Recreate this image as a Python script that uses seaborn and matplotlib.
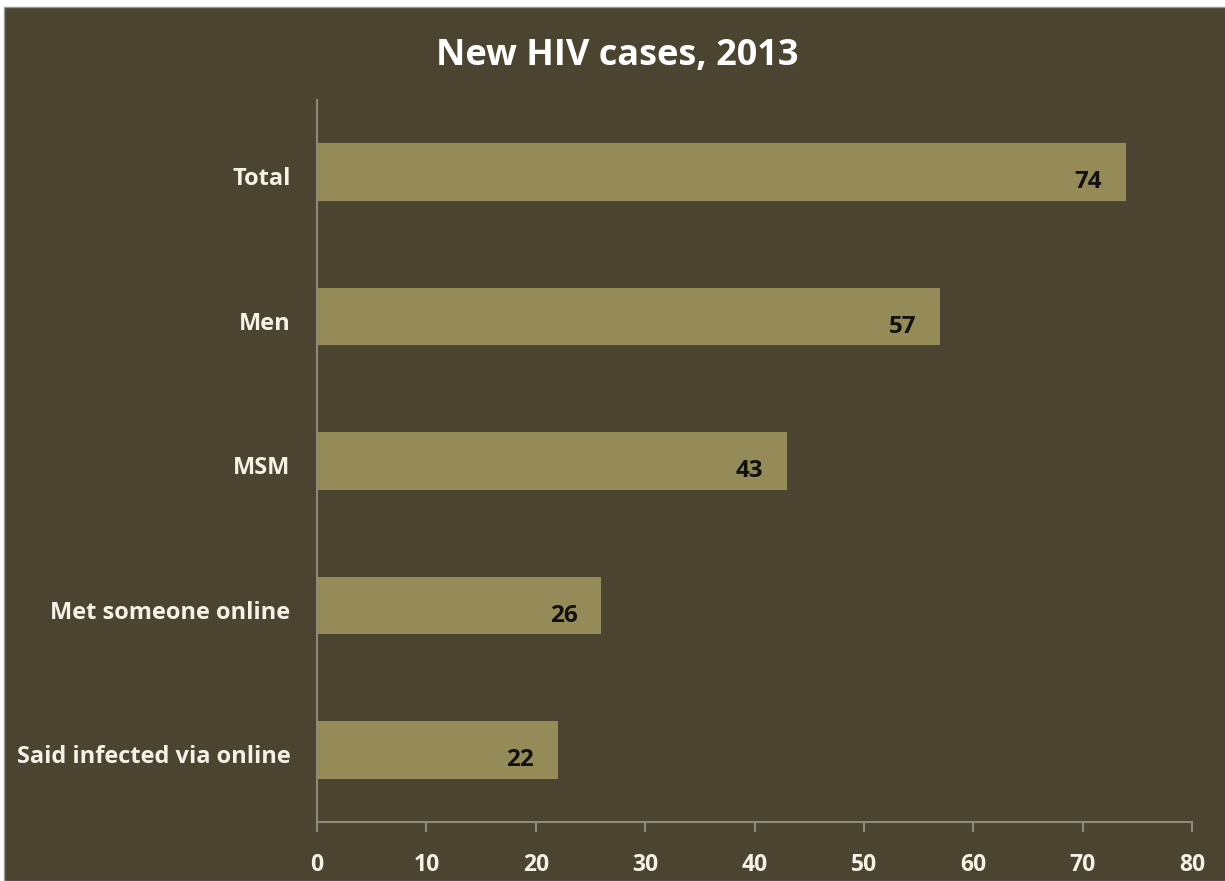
import pandas as pd
import matplotlib.pyplot as plt
import matplotlib.patches as mpatches
import matplotlib.transforms as mtransforms
import seaborn as sns

# 데이터
groups = ["Total", "Men", "MSM", "Met someone online", "Said infected via online"]
cases = [74, 57, 43, 26, 22]
x_ticks = [0, 10, 20, 30, 40, 50, 60, 70, 80]

df = pd.DataFrame({"group": groups, "cases": cases})

bg = "#4a4430"
bar_color = "#958b58"
axis_gray = "#8c8a7c"

sns.set_theme(style="white")
plt.rcParams["font.family"] = ["Open Sans", "DejaVu Sans"]
plt.rcParams["font.weight"] = "bold"

fig = plt.figure(figsize=(12.25, 8.81), dpi=100, facecolor="white")
# 프레임 (위/왼쪽 흰 여백)
fig.patches.append(mpatches.Rectangle((4 / 1225, 0), 1, 1 - 7 / 881, transform=fig.transFigure,
                                      facecolor=bg, edgecolor="#9a9a9a", linewidth=1, zorder=-10))
ax = fig.add_axes([317 / 1225, 1 - 822 / 881, (1192 - 317) / 1225, (822 - 100) / 881])
ax.set_facecolor(bg)

sns.barplot(data=df, x="cases", y="group", color=bar_color, width=0.4, saturation=1,
            linewidth=0, edgecolor=bar_color, ax=ax)

# 막대 안쪽 값 표시
for i, v in enumerate(cases):
    ax.text(v - 2.2, i + 0.07, str(v), ha="right", va="center", fontsize=17.5,
            fontweight="bold", color="#111111")

ax.set_xlim(0, 80)
ax.set_xticks(x_ticks)
ax.set_xlabel("")
ax.set_ylabel("")
ax.tick_params(axis="x", colors=axis_gray, length=7, width=1.5, direction="out",
               labelcolor="#f4f1e6", labelsize=16.5, pad=15, bottom=True)
ax.tick_params(axis="y", length=0, pad=19, labelcolor="#f4f1e6", labelsize=17)
for lbl in ax.get_xticklabels() + ax.get_yticklabels():
    lbl.set_fontweight("bold")

# y 라벨 살짝 아래로
shift = mtransforms.ScaledTranslation(0, -3 / 72, fig.dpi_scale_trans)
for lbl in ax.get_yticklabels():
    lbl.set_transform(lbl.get_transform() + shift)

for s in ["top", "right"]:
    ax.spines[s].set_visible(False)
for s in ["left", "bottom"]:
    ax.spines[s].set_color(axis_gray)
    ax.spines[s].set_linewidth(1.5)

fig.text(617 / 1225, 1 - 56 / 881, "New HIV cases, 2013", ha="center", va="center",
         fontsize=26, fontweight="bold", color="white")

fig.savefig("out.png", dpi=100, facecolor=fig.get_facecolor())
